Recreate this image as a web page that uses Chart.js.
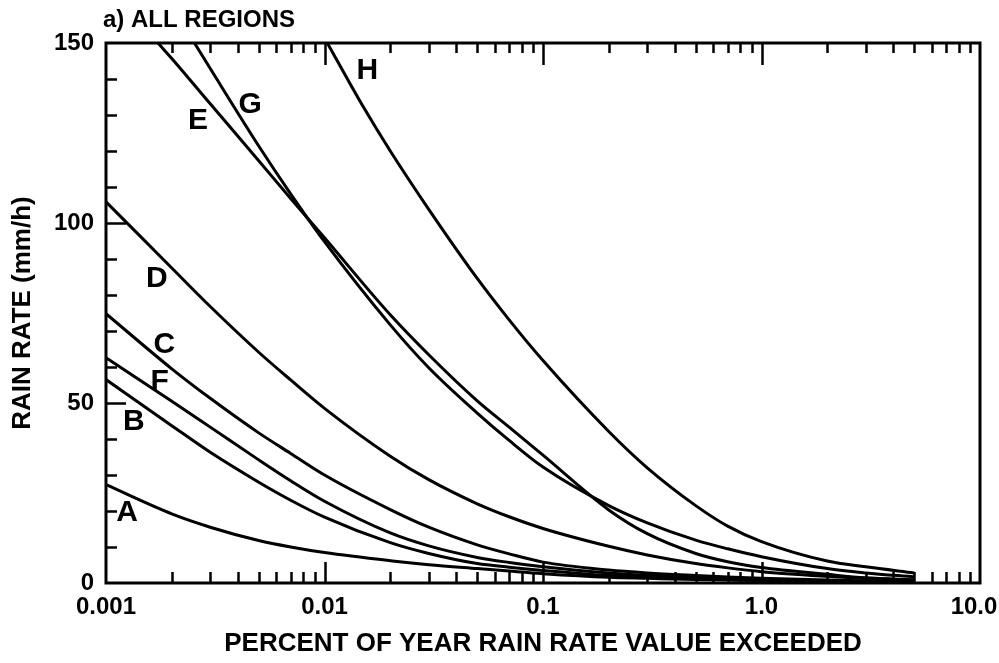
<!DOCTYPE html>
<html>
<head>
<meta charset="utf-8">
<script src="https://cdn.jsdelivr.net/npm/chart.js@4.4.0/dist/chart.umd.min.js"></script>
<style>
  html, body { margin: 0; padding: 0; background: #fff; overflow: hidden; }
  #obal { width: 999px; height: 663px; position: relative; }
  #graf { display: block; }
</style>
</head>
<body>
<div id="obal"><canvas id="graf"></canvas></div>
<script>
// ---- data: percent of year (x) and rain rate in mm/h (y) ----
const procenta = [0.001, 0.002, 0.003, 0.005, 0.007, 0.01, 0.02, 0.03, 0.05, 0.07, 0.1, 0.2, 0.3, 0.5, 0.7, 1, 2, 3, 5];
const rateA = [27.3, 19.2, 15.5, 11.8, 10.0, 8.45, 6.2, 5.1, 4.0, 3.3, 2.6, 1.6, 1.3, 0.95, 0.84, 0.72, 0.5, 0.35, 0.2];
const rateB = [56.5, 43.7, 36.3, 28.0, 23.0, 18.3, 11.2, 8.2, 5.4, 4.4, 3.5, 2.1, 1.6, 1.15, 0.95, 0.8, 0.55, 0.4, 0.2];
const rateC = [74.8, 59.5, 51.3, 41.7, 36.0, 30.0, 20.4, 15.5, 10.6, 8.1, 5.8, 3.6, 2.8, 2.1, 1.7, 1.35, 0.8, 0.6, 0.4];
const rateD = [105.9, 87.5, 76.8, 64.1, 56.4, 48.5, 35.2, 28.7, 22.0, 18.4, 15.15, 10.2, 7.8, 5.4, 4.2, 3.15, 1.85, 1.27, 0.85];
const rateF = [62.6, 50.5, 43.3, 34.2, 28.4, 22.7, 13.9, 10.3, 7.1, 5.7, 4.5, 2.75, 2.1, 1.45, 1.1, 0.85, 0.6, 0.45, 0.3];

// E, G, H leave the top of the frame, so they start where they cross 150
const procentaE = [0.00173, 0.002, 0.003, 0.005, 0.007, 0.01, 0.02, 0.03, 0.05, 0.07, 0.1, 0.2, 0.3, 0.5, 0.7, 1, 2, 3, 5];
const rateE     = [150, 145.7, 133.1, 117.3, 106.8, 95.9, 74.5, 63.4, 50.6, 43.3, 35.5, 20.3, 13.7, 8.2, 5.9, 4.3, 2.4, 1.43, 0.9];
const procentaG = [0.00254, 0.003, 0.005, 0.007, 0.01, 0.02, 0.03, 0.05, 0.07, 0.1, 0.2, 0.3, 0.5, 0.7, 1, 2, 3, 5];
const rateG     = [150, 142.9, 121.4, 108.1, 94.8, 71.7, 59.8, 47.2, 39.6, 32.2, 21.5, 16.7, 11.9, 9.5, 7.3, 4.0, 2.8, 1.7];
const procentaH = [0.0103, 0.015, 0.02, 0.03, 0.05, 0.07, 0.1, 0.2, 0.3, 0.5, 0.7, 1, 2, 3, 5];
const rateH     = [150, 132.4, 120, 103.8, 84.6, 73.1, 61.8, 42.1, 32.0, 21.5, 15.8, 11.5, 6.1, 4.5, 2.8];

// curve letters and where they sit (data coordinates)
const pismena  = ['A', 'B', 'C', 'D', 'E', 'F', 'G', 'H'];
const pismenoX = [0.00125, 0.00134, 0.00185, 0.00171, 0.00264, 0.00176, 0.00457, 0.0157];
const pismenoY = [19.5, 44.7, 66.2, 84.5, 128.3, 55.9, 132.9, 142.2];

const xTickValues = [0.001, 0.01, 0.1, 1, 10];
const xTickLabels = ['0.001', '0.01', '0.1', '1.0', '10.0'];
const yTickValues = [0, 50, 100, 150];
const yTickLabels = ['0', '50', '100', '150'];

const nadpis = 'a) ALL REGIONS';
const popisX = 'PERCENT OF YEAR RAIN RATE VALUE EXCEEDED';
const popisY = 'RAIN RATE (mm/h)';
// ---------------------------------------------------------------------------------

const PISMO = '"Liberation Sans", Arial, sans-serif';

const body = (px, rr) => px.map((p, i) => ({ x: p, y: rr[i] }));
const krivka = (jmeno, px, rr) => ({
    label: jmeno,
    data: body(px, rr),
    borderColor: '#000',
    borderWidth: 3,
    pointRadius: 0,
    fill: false,
    cubicInterpolationMode: 'monotone'
});

// tick marks 1..9 per decade on the log axis, every 10 on the rain axis
const logTicks = [];
for (let e = -3; e <= 0; e++) {
    for (let m = 1; m <= 9; m++) logTicks.push(Number((m * Math.pow(10, e)).toPrecision(6)));
}
logTicks.push(10);
const linTicks = [];
for (let v = 0; v <= 150; v += 10) linTicks.push(v);

const najdi = (arr, v) => arr.findIndex(t => Math.abs(t - v) <= Math.abs(t) * 1e-6);

// frame, inward ticks, curve letters and the panel heading
const ramecek = {
    id: 'ramecek',
    afterDatasetsDraw(chart) {
        const { ctx, chartArea: a, scales: { x, y } } = chart;
        ctx.save();
        ctx.strokeStyle = '#000';
        ctx.lineWidth = 2.5;
        ctx.beginPath();
        logTicks.forEach(v => {
            if (v <= 0.001 || v >= 10) return;
            const px = Math.round(x.getPixelForValue(v)) + 0.5;
            const major = najdi(xTickValues, v) >= 0;
            ctx.moveTo(px, a.bottom); ctx.lineTo(px, a.bottom - (major ? 21 : 11));
            ctx.moveTo(px, a.top); ctx.lineTo(px, a.top + (major ? 22 : 10));
        });
        linTicks.forEach(v => {
            if (v <= 0 || v >= 150) return;
            const py = Math.round(y.getPixelForValue(v)) + 0.5;
            ctx.moveTo(a.left, py); ctx.lineTo(a.left + (v % 50 === 0 ? 20 : 11), py);
        });
        ctx.stroke();

        ctx.lineWidth = 3;
        ctx.strokeRect(a.left, a.top, a.right - a.left, a.bottom - a.top);

        ctx.fillStyle = '#000';
        ctx.font = 'bold 30px ' + PISMO;
        ctx.textAlign = 'center';
        ctx.textBaseline = 'middle';
        pismena.forEach((p, i) => {
            ctx.fillText(p, x.getPixelForValue(pismenoX[i]), y.getPixelForValue(pismenoY[i]));
        });

        ctx.font = 'bold 24px ' + PISMO;
        ctx.textAlign = 'left';
        ctx.textBaseline = 'alphabetic';
        ctx.fillText(nadpis, 103, 27);
        ctx.restore();
    }
};

document.addEventListener('DOMContentLoaded', () => {
    const ctx = document.getElementById('graf').getContext('2d');
    new Chart(ctx, {
        type: 'line',
        data: {
            datasets: [
                krivka('A', procenta, rateA),
                krivka('B', procenta, rateB),
                krivka('C', procenta, rateC),
                krivka('D', procenta, rateD),
                krivka('E', procentaE, rateE),
                krivka('F', procenta, rateF),
                krivka('G', procentaG, rateG),
                krivka('H', procentaH, rateH)
            ]
        },
        options: {
            responsive: true,
            maintainAspectRatio: false,
            animation: false,
            devicePixelRatio: 1,
            layout: { padding: { top: 43, right: 19, bottom: 0, left: 0 } },
            plugins: { legend: { display: false }, tooltip: { enabled: false }, title: { display: false } },
            scales: {
                x: {
                    type: 'logarithmic',
                    min: 0.001,
                    max: 10,
                    afterBuildTicks: s => { s.ticks = logTicks.map(v => ({ value: v })); },
                    afterFit: s => { s.height = 80; s.paddingLeft = 0; s.paddingRight = 0; },
                    grid: { display: false, drawTicks: false },
                    border: { display: false },
                    ticks: {
                        autoSkip: false,
                        maxRotation: 0,
                        padding: 10,
                        color: '#000',
                        font: { family: PISMO, size: 24, weight: 'bold' },
                        callback: v => {
                            const i = najdi(xTickValues, v);
                            if (i < 0) return '';
                            // the last label sits a touch left of its tick, as in the figure
                            return i === xTickLabels.length - 1 ? xTickLabels[i] + '\u2002' : xTickLabels[i];
                        }
                    },
                    title: {
                        display: true,
                        text: popisX,
                        color: '#000',
                        font: { family: PISMO, size: 26, weight: 'bold' },
                        padding: { top: 0, bottom: 4 }
                    }
                },
                y: {
                    type: 'linear',
                    min: 0,
                    max: 150,
                    afterBuildTicks: s => { s.ticks = linTicks.map(v => ({ value: v })); },
                    afterFit: s => { s.width = 106; },
                    grid: { display: false, drawTicks: false },
                    border: { display: false },
                    ticks: {
                        autoSkip: false,
                        padding: 12,
                        color: '#000',
                        font: { family: PISMO, size: 24, weight: 'bold' },
                        callback: v => { const i = najdi(yTickValues, v); return i >= 0 ? yTickLabels[i] : ''; }
                    },
                    title: {
                        display: true,
                        text: popisY,
                        color: '#000',
                        font: { family: PISMO, size: 26, weight: 'bold' },
                        padding: { top: 7, bottom: 0 }
                    }
                }
            }
        },
        plugins: [ramecek]
    });
});
</script>
</body>
</html>
